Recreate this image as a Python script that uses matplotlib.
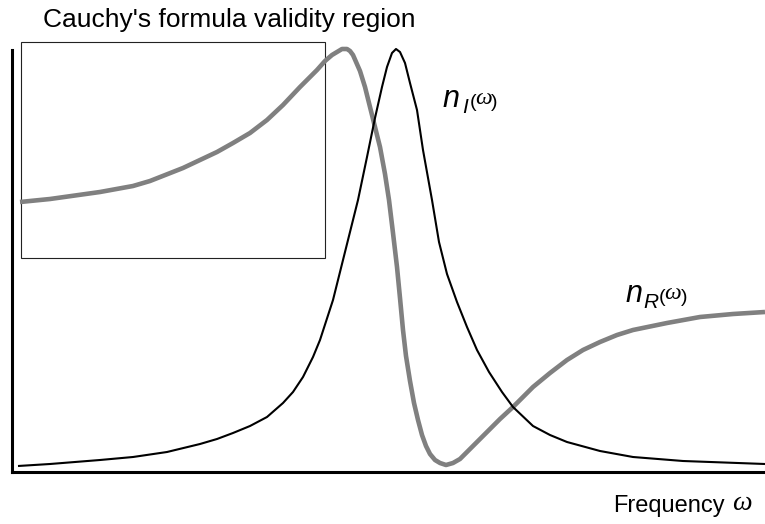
import matplotlib
matplotlib.use("Agg")
import matplotlib.pyplot as plt
from matplotlib.patches import Rectangle

plt.rcParams["font.family"] = ["Liberation Sans", "DejaVu Sans"]

# Imaginary part of the refractive index (absorption peak), arbitrary units
freq_imag = [0.06, 0.38, 0.88, 1.21, 1.55, 1.88, 2.05, 2.21, 2.38, 2.55, 2.71,
             2.81, 2.91, 3.01, 3.08, 3.21, 3.31, 3.41, 3.46, 3.55, 3.63, 3.70,
             3.75, 3.80, 3.84, 3.88, 3.93, 3.98, 4.05, 4.11, 4.20, 4.27, 4.35,
             4.45, 4.55, 4.65, 4.77, 4.90, 5.01, 5.21, 5.38, 5.55, 5.88, 6.21,
             6.71, 7.53]
n_imag = [0.06, 0.08, 0.12, 0.15, 0.20, 0.28, 0.33, 0.39, 0.46, 0.55, 0.69,
          0.80, 0.95, 1.15, 1.32, 1.72, 2.12, 2.52, 2.72, 3.15, 3.54, 3.85,
          4.05, 4.19, 4.23, 4.20, 4.09, 3.89, 3.62, 3.22, 2.72, 2.30, 1.98,
          1.70, 1.45, 1.22, 1.00, 0.80, 0.65, 0.46, 0.37, 0.30, 0.21, 0.15,
          0.11, 0.08]

# Real part of the refractive index (anomalous dispersion), arbitrary units
freq_real = [0.08, 0.38, 0.88, 1.21, 1.38, 1.71, 2.05, 2.21, 2.38, 2.55, 2.71,
             2.88, 3.05, 3.13, 3.20, 3.25, 3.30, 3.35, 3.38, 3.41, 3.48, 3.53,
             3.58, 3.63, 3.68, 3.73, 3.77, 3.81, 3.85, 3.88, 3.91, 3.94, 3.98,
             4.02, 4.06, 4.10, 4.14, 4.18, 4.23, 4.28, 4.34, 4.41, 4.48, 4.58,
             4.68, 4.78, 4.88, 5.01, 5.11, 5.21, 5.38, 5.55, 5.71, 5.88, 6.05,
             6.21, 6.55, 6.88, 7.21, 7.53]
n_real = [2.70, 2.73, 2.80, 2.86, 2.91, 3.04, 3.20, 3.29, 3.39, 3.52, 3.67,
          3.85, 4.02, 4.11, 4.17, 4.20, 4.23, 4.23, 4.21, 4.17, 4.01, 3.85,
          3.65, 3.45, 3.25, 2.98, 2.72, 2.39, 2.05, 1.74, 1.42, 1.16, 0.91,
          0.69, 0.52, 0.37, 0.26, 0.18, 0.12, 0.09, 0.07, 0.09, 0.13, 0.23,
          0.33, 0.43, 0.53, 0.65, 0.75, 0.85, 0.99, 1.12, 1.22, 1.30, 1.37,
          1.42, 1.49, 1.55, 1.58, 1.60]

# Low-frequency window where Cauchy's formula holds
cauchy_freq = (0.09, 3.13)
cauchy_n = (2.14, 4.30)

W, H = 765, 524
fig = plt.figure(figsize=(W / 100, H / 100), dpi=100)
ax = fig.add_axes([12 / W, (H - 472) / H, 753 / W, (472 - 50) / H])
ax.set_xlim(0, 7.53)
ax.set_ylim(0, 4.22)

for side in ("top", "right"):
    ax.spines[side].set_visible(False)
for side in ("left", "bottom"):
    ax.spines[side].set_linewidth(2.2)
    ax.spines[side].set_color("black")
ax.set_xticks([])
ax.set_yticks([])
ax.patch.set_alpha(0)

ax.plot(freq_real, n_real, color="#808080", lw=3.3, clip_on=False,
        solid_capstyle="butt", solid_joinstyle="round", zorder=3)
ax.plot(freq_imag, n_imag, color="black", lw=1.5, clip_on=False,
        solid_capstyle="butt", solid_joinstyle="round", zorder=4)

rect = Rectangle((cauchy_freq[0], cauchy_n[0]),
                 cauchy_freq[1] - cauchy_freq[0], cauchy_n[1] - cauchy_n[0],
                 fill=False, edgecolor="#222222", lw=0.8, clip_on=False, zorder=2)
ax.add_patch(rect)

ax.text(cauchy_freq[0] + 0.22, 4.45, "Cauchy's formula validity region",
        fontsize=19, ha="left", va="baseline", clip_on=False)


def curve_label(x, y, sub, sub_w):
    """Italic n with a subscript, followed by (omega)."""
    ax.text(x, y, "n", fontsize=22, style="italic", va="baseline", ha="left")
    ax.annotate(sub, (x, y), xytext=(13.5, -4), textcoords="offset points",
                fontsize=15, style="italic", va="baseline", ha="left")
    ax.annotate("(", (x, y), xytext=(13.5 + sub_w, 0), textcoords="offset points",
                fontsize=14, va="baseline", ha="left")
    ax.annotate("\u03c9", (x, y), xytext=(17.5 + sub_w, 2), textcoords="offset points",
                fontsize=17, style="italic", family="Liberation Serif",
                va="baseline", ha="left")
    ax.annotate(")", (x, y), xytext=(29.0 + sub_w, 0), textcoords="offset points",
                fontsize=14, va="baseline", ha="left")


curve_label(4.31, 3.65, "I", 5.5)
curve_label(6.13, 1.70, "R", 11.0)

fig.text(613 / W, 1 - 512 / H, "Frequency", fontsize=17, ha="left", va="baseline")
fig.text(732 / W, 1 - 510 / H, "\u03c9", fontsize=20, style="italic",
         family="Liberation Serif", ha="left", va="baseline")

fig.savefig("out.png", dpi=100)
